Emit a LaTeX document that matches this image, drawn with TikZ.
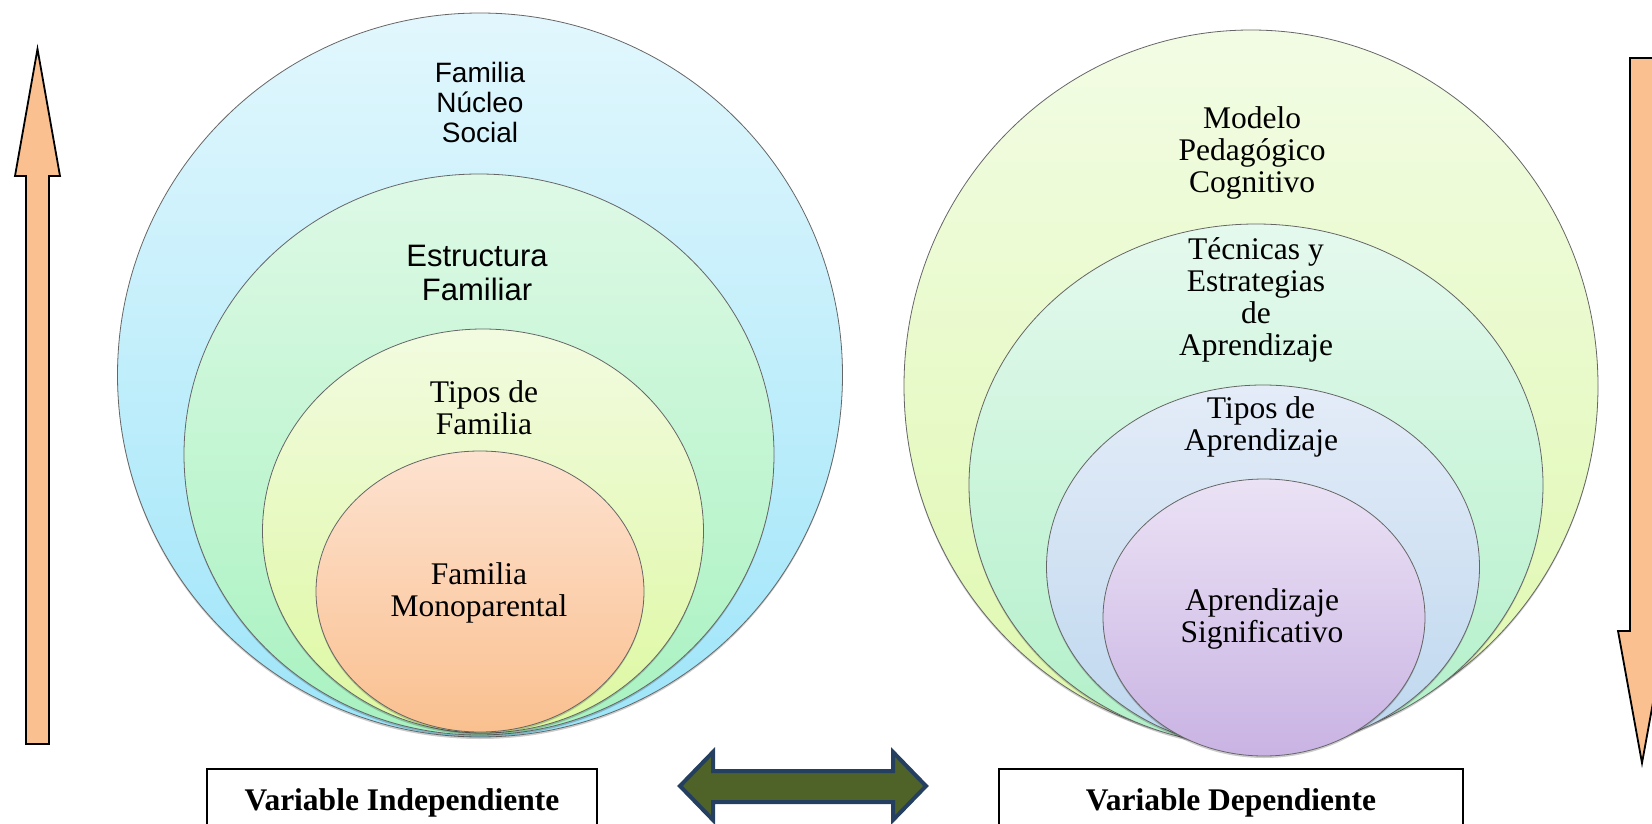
\documentclass[tikz,border=0pt]{standalone}
\usepackage{fontspec}
\setmainfont{Liberation Serif}
\setsansfont{Liberation Sans}
\usetikzlibrary{shapes.geometric,shadows}

\definecolor{blueT}{RGB}{226,247,253}
\definecolor{blueB}{RGB}{158,229,249}
\definecolor{greenT}{RGB}{222,249,230}
\definecolor{greenB}{RGB}{168,242,192}
\definecolor{yellowT}{RGB}{242,251,224}
\definecolor{yellowB}{RGB}{221,248,160}
\definecolor{orangeT}{RGB}{253,226,208}
\definecolor{orangeB}{RGB}{250,192,143}
\definecolor{limeT}{RGB}{242,252,228}
\definecolor{limeB}{RGB}{223,248,174}
\definecolor{mintT}{RGB}{229,249,238}
\definecolor{mintB}{RGB}{177,240,200}
\definecolor{steelT}{RGB}{228,236,248}
\definecolor{steelB}{RGB}{189,215,238}
\definecolor{lilacT}{RGB}{235,226,245}
\definecolor{lilacB}{RGB}{201,179,227}
\definecolor{peach}{RGB}{250,192,144}
\definecolor{arrowgreen}{RGB}{79,98,40}
\definecolor{arrowblue}{RGB}{36,63,96}

\begin{document}
\begin{tikzpicture}[x=1pt, y=-1pt]
      \tikzstyle{ring}=[draw=black!60, line width=0.8pt, shape=ellipse, inner sep=0pt, drop shadow={shadow xshift=0pt, shadow yshift=-2pt, opacity=0.2, fill=black}]
      \tikzstyle{serif}=[align=center, font=\fontsize{31.5}{32}\selectfont]
      \tikzstyle{sans}=[align=center, font=\sffamily\fontsize{28}{30}\selectfont]
      \tikzstyle{varbox}=[draw, line width=1.6pt, font=\bfseries\fontsize{31.5}{32}\selectfont, anchor=base, text height=21pt, text depth=7pt, inner ysep=20pt]

      \clip (0,0) rectangle (1652,824);

      % draw rings
      \foreach \x/\y/\w/\h/\t/\b [count=\i] in {480/375/725/724/blueT/blueB, 479/454.5/590/561/greenT/greenB, 483/531/441/404/yellowT/yellowB, 480/591.5/328/281/orangeT/orangeB}
      \node [ring, top color=\t, bottom color=\b, minimum width=\w pt, minimum height=\h pt] (indep-\i) at (\x,\y) {};

      \foreach \x/\y/\w/\h/\t/\b [count=\i] in {1251/386/694/712/limeT/limeB, 1256/485/574/522/mintT/mintB, 1263/567/433/364/steelT/steelB, 1264/617.5/322/277/lilacT/lilacB}
      \node [ring, top color=\t, bottom color=\b, minimum width=\w pt, minimum height=\h pt] (dep-\i) at (\x,\y) {};

      % draw text
      \node [sans] (indep-text-1) at (480,102) {Familia\\Núcleo\\Social};
      \node [sans, font=\sffamily\fontsize{31}{34}\selectfont] (indep-text-2) at (477,273) {Estructura\\Familiar};
      \node [serif] (indep-text-3) at (484,408) {Tipos de\\Familia};
      \node [serif] (indep-text-4) at (479,593) {Familia\\Monoparental};

      \node [serif] (dep-text-1) at (1252,153) {Modelo\\Pedagógico\\Cognitivo};
      \node [serif] (dep-text-2) at (1256,300) {Técnicas y\\Estrategias\\de\\Aprendizaje};
      \node [serif] (dep-text-3) at (1261,427) {Tipos de\\Aprendizaje};
      \node [serif] (dep-text-4) at (1262,619) {Aprendizaje\\Significativo};

      \node [varbox, minimum width=390pt] (indep-box) at (402,810) {Variable Independiente};
      \node [varbox, minimum width=464pt] (dep-box) at (1231,810) {Variable Dependiente};

      % draw arrows
      \filldraw [fill=peach, line width=1.8pt] (26,744) -- (26,176) -- (15,176) -- (37.5,49) -- (60,176) -- (49,176) -- (49,744) -- cycle;
      \filldraw [fill=peach, line width=1.8pt] (1630,58) -- (1654,58) -- (1654,631) -- (1666,631) -- (1642,763) -- (1618,631) -- (1630,631) -- cycle;
      \filldraw [fill=arrowgreen, draw=arrowblue, line width=4pt] (680,786) -- (713,752) -- (713,771) -- (893,771) -- (893,752) -- (926,786) -- (893,820) -- (893,802) -- (713,802) -- (713,820) -- cycle;

\end{tikzpicture}
\end{document}
